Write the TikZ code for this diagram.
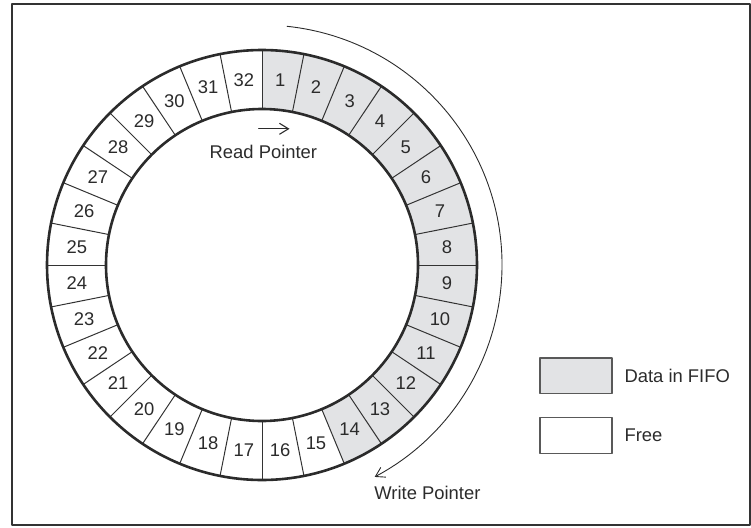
\documentclass[tikz,border=0pt]{standalone}
\usepackage{fontspec}
\setmainfont{Liberation Sans}
\usetikzlibrary{arrows.meta,positioning}
\definecolor{fifogray}{HTML}{E2E3E5}
\definecolor{inkgray}{HTML}{2B2B2B}
\tikzset{
  cell label/.style={font=\fontsize{9.2}{11}\selectfont,text=inkgray,inner sep=0pt},
  pointer label/.style={font=\fontsize{9.2}{11}\selectfont,text=inkgray,inner sep=0pt},
  legend box/.style={draw=black!65,line width=0.6pt,minimum width=36pt,minimum height=17.8pt,inner sep=0pt},
  legend text/.style={font=\fontsize{9.2}{11}\selectfont,text=inkgray,inner sep=0pt,anchor=west}
}
\begin{document}
\begin{tikzpicture}[x=0.5pt,y=0.5pt,line cap=round,line join=round,>={Straight Barb[length=4.5pt,width=5.5pt]}]
  \useasboundingbox (0,0) rectangle (751,527);
  \draw[line width=1.1pt,draw=black!80] (12,2) rectangle (750,523);
  % ring of 32 cells, centre at (262,262)
  \begin{scope}[shift={(262,262)}]
    \fill[fifogray] (90:156) -- (90:215) arc[start angle=90,end angle=-67.5,radius=215]
      -- (-67.5:156) arc[start angle=-67.5,end angle=90,radius=156] -- cycle;
    \foreach \k in {1,...,32}
      \draw[line width=0.5pt,draw=black!80] ({90-\k*11.25}:156) -- ({90-\k*11.25}:215);
    \draw[line width=1.3pt,draw=inkgray] (0,0) circle (215);
    \draw[line width=1.3pt,draw=inkgray] (0,0) circle (156);
    \foreach \k in {1,...,32}
      \node[cell label] (c\k) at ({90-(\k-0.5)*11.25}:186) {\k};
    \coordinate (wp start) at (84:240);
    \draw[line width=0.45pt,draw=inkgray,->] (wp start) arc[start angle=84,end angle=-62,radius=240];
  \end{scope}
  % pointers
  \coordinate (rp tail) at (258.6,398.2);
  \coordinate (rp head) at (289.5,398.2);
  \draw[line width=0.55pt,draw=inkgray,->] (rp tail) -- (rp head);
  \node[pointer label] (read) at (263.4,375.5) {Read Pointer};
  \node[pointer label] (write) at (427.4,34.4) {Write Pointer};
  % legend
  \node[legend box,fill=fifogray] (data box) at (576,151.2) {};
  \node[legend box,fill=white] (free box) at (576,91.5) {};
  \node[legend text,right=5.8pt of data box] (data text) {Data in FIFO};
  \node[legend text,right=5.8pt of free box] (free text) {Free};
\end{tikzpicture}
\end{document}
